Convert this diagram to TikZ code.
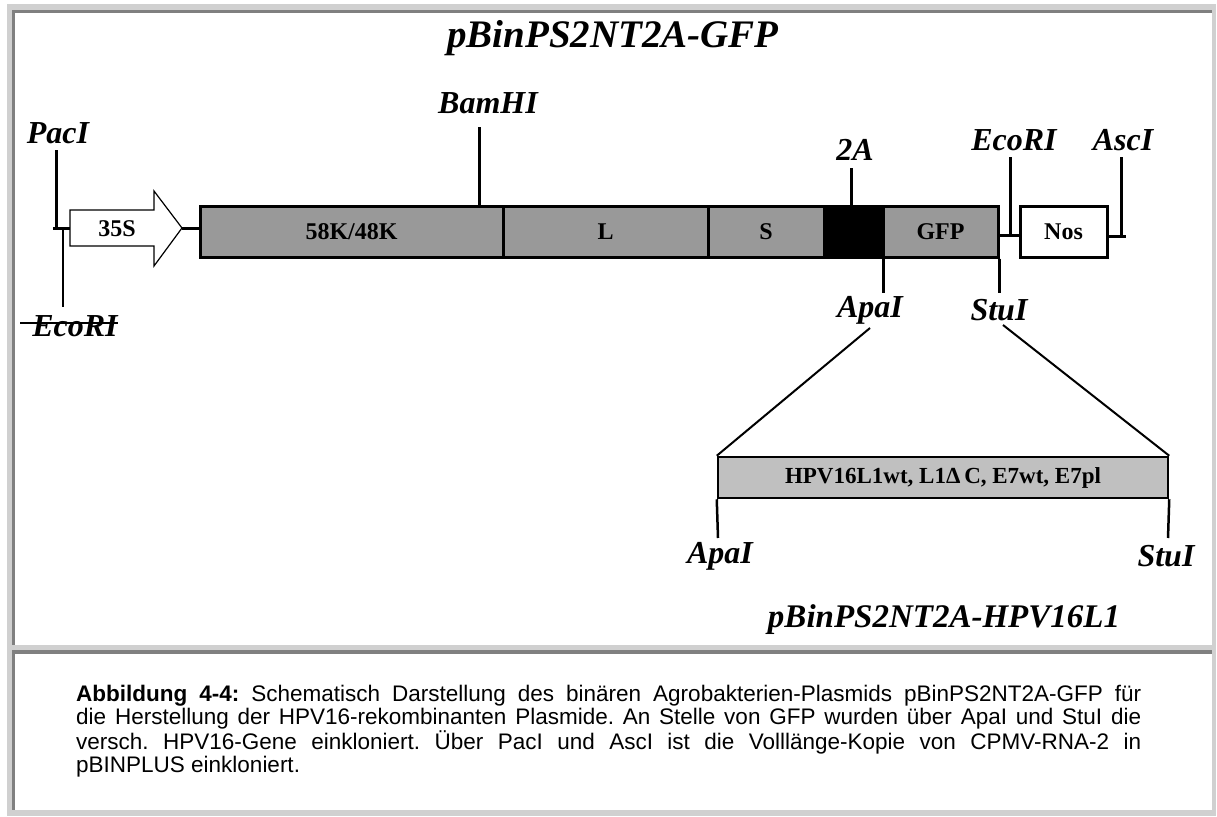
\documentclass[tikz,border=0pt]{standalone}
\usepackage{fontspec}
\setmainfont{Liberation Serif}
\newfontfamily\capfont{Liberation Sans}
\usepackage{xcolor}
\usetikzlibrary{positioning}

\definecolor{boxgray}{HTML}{999999}
\definecolor{insgray}{HTML}{C0C0C0}
\definecolor{framelight}{HTML}{D0D0D0}
\definecolor{framedark}{HTML}{808080}

\begin{document}
\begin{tikzpicture}[x=1pt, y=-1pt,
    seg/.style={draw=black, line width=3pt, fill=boxgray, inner sep=0pt, minimum height=51pt, font=\fontsize{24}{28}\selectfont\bfseries},
    enz/.style={inner sep=0pt, font=\fontsize{32}{36}\selectfont\bfseries\itshape},
    plasmid/.style={inner sep=0pt, font=\fontsize{33}{38}\selectfont\bfseries\itshape},
    cut/.style={line width=3pt},
    cutthin/.style={line width=2pt}]
    \useasboundingbox (0,0) rectangle (1217,816);

    % frame
    \fill[framelight] (7,4) rectangle (1216,816);
    \fill[white] (12,10) rectangle (1212,645);
    \fill[white] (12,650) rectangle (1212,810);
    \fill[framedark] (12,10) rectangle (1212,13);
    \fill[framedark] (12,10) rectangle (15,645);
    \fill[framedark] (12,650) rectangle (1212,654);
    \fill[framedark] (12,650) rectangle (15,810);

    \node[plasmid, font=\fontsize{39}{44}\selectfont\bfseries\itshape] (gfptitle) at (613,38) {pBinPS2NT2A-GFP};

    % cassette
    \node[seg, minimum width=303pt] (k58) at (351.5,231.5) {58K/48K};
    \node[seg, minimum width=205pt] (lgene) at (605.5,231.5) {L};
    \node[seg, minimum width=116pt] (sgene) at (766,231.5) {S};
    \node[seg, minimum width=59pt, fill=black] (twoa) at (853.5,231.5) {};
    \node[seg, minimum width=115pt] (gfp) at (940.5,231.5) {GFP};
    \node[seg, minimum width=87pt, fill=white] (nos) at (1063.5,231.5) {Nos};

    % promoter arrow
    \coordinate (tail35s) at (70,228);
    \coordinate (tip35s) at (182,228);
    \draw[line width=1.2pt, fill=white] (tail35s) -- ++(0,-18) -- ++(84,0) -- ++(0,-19) -- (tip35s)
        -- ++(-28,38) -- ++(0,-20) -- ++(-84,0) -- cycle;
    \node[font=\fontsize{24}{28}\selectfont\bfseries] (p35s) at (117,229) {35S};
    \draw[cut] (tip35s) -- (tip35s -| k58.west);

    % left end
    \node[enz] (paci) at (58,133) {PacI};
    \coordinate (pacitop) at (56,150);
    \coordinate (lend) at (53,228);
    \draw[cut] (pacitop) -- (pacitop |- lend);
    \draw[cut] (lend) -- (tail35s);
    \coordinate (ecoltop) at (63,228);
    \coordinate (ecolbot) at (63,307);
    \draw[cutthin] (ecoltop) -- (ecolbot);
    \node[enz] (ecoold) at (75,326) {EcoRI};
    \draw[line width=1.5pt] ([xshift=-12pt,yshift=3pt]ecoold.west) -- ([yshift=3pt]ecoold.east);

    % sites above
    \node[enz] (bamhi) at (488,103) {BamHI};
    \coordinate (bamtop) at (479,127);
    \draw[cut] (bamtop) -- (bamtop |- k58.north);
    \node[enz] (twoalbl) at (855,150) {2A};
    \coordinate (twoatop) at (851,168);
    \draw[cut] (twoatop) -- (twoatop |- twoa.north);

    % right end
    \coordinate (gfpend) at (998,235);
    \coordinate (nosend) at (1126,236);
    \draw[cut] (gfpend) -- (gfpend -| nos.west);
    \draw[cut] (nosend -| nos.east) -- (nosend);
    \node[enz] (ecori) at (1014,140) {EcoRI};
    \coordinate (ecotop) at (1010,157);
    \draw[cut] (ecotop) -- (ecotop |- gfpend);
    \node[enz] (asci) at (1123,140) {AscI};
    \coordinate (asctop) at (1121,157);
    \draw[cut] (asctop) -- (asctop |- nosend);

    % sites below
    \coordinate (apabot) at (883,293);
    \draw[cut] (apabot |- gfp.south) -- (apabot);
    \node[enz] (apai) at (870,310) {ApaI};
    \coordinate (stubot) at (999,293);
    \draw[cut] (stubot |- gfp.south) -- (stubot);
    \node[enz] (stui) at (999,310) {StuI};

    % insert
    \node[draw=black, line width=2.5pt, fill=insgray, inner sep=0pt, minimum width=450pt, minimum height=41pt,
        font=\fontsize{23}{26}\selectfont\bfseries] (hpv) at (943,477.5) {HPV16L1wt, L1Δ\,C, E7wt, E7pl};
    \coordinate (apadiag) at (870,328);
    \coordinate (studiag) at (1003,325);
    \draw[cutthin] (apadiag) -- (hpv.north west);
    \draw[cutthin] (studiag) -- (hpv.north east);
    \coordinate (apalow) at (718,538);
    \coordinate (stulow) at (1168,538);
    \draw[line width=2.5pt] (hpv.south west) -- (apalow);
    \draw[line width=2.5pt] (hpv.south east) -- (stulow);
    \node[enz] (apailow) at (720,556) {ApaI};
    \node[enz] (stuilow) at (1166,556) {StuI};

    \node[plasmid] (hpvtitle) at (944,620) {pBinPS2NT2A-HPV16L1};

    % caption
    \node[anchor=north west, inner sep=0pt, text width=1065pt, align=justify,
        font=\capfont\fontsize{22.5}{23}\selectfont] (caption) at (76,685)
        {\frenchspacing\hyphenpenalty=10000\textbf{Abbildung 4-4:} Schematisch Darstellung des binären Agrobakterien-Plasmids pBinPS2NT2A-GFP für\linebreak
        die Herstellung der HPV16-rekombinanten Plasmide. An Stelle von GFP wurden über ApaI und StuI die\linebreak
        versch. HPV16-Gene einkloniert. Über PacI und AscI ist die Volllänge-Kopie von CPMV-RNA-2 in\linebreak
        pBINPLUS einkloniert.};
\end{tikzpicture}
\end{document}
